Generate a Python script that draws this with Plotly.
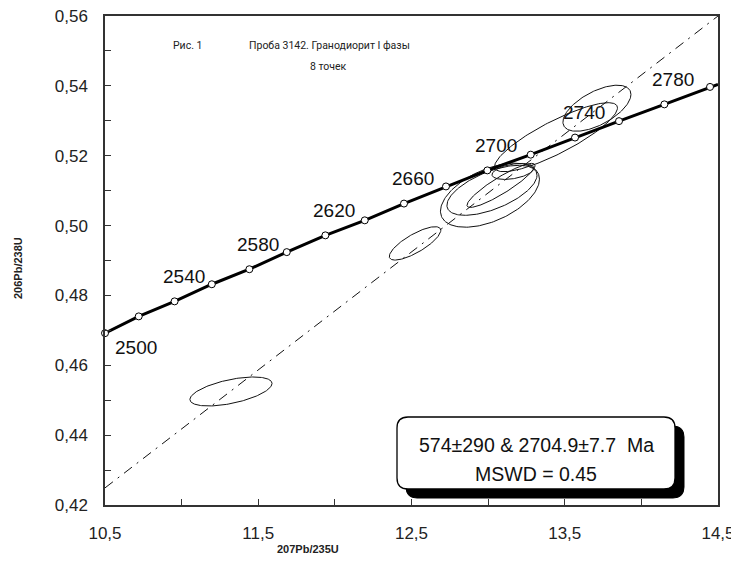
import numpy as np
import plotly.graph_objects as go

# ---------------- data ----------------
# concordia: ages (Ma) and their ratio coordinates
conc_age = [2500, 2520, 2540, 2560, 2580, 2600, 2620, 2640,
            2660, 2680, 2700, 2720, 2740, 2760, 2780, 2800]
conc_x = [10.500, 10.720, 10.954, 11.197, 11.442, 11.686, 11.938, 12.195,
          12.451, 12.725, 12.995, 13.278, 13.567, 13.854, 14.150, 14.448]
conc_y = [0.4692, 0.4740, 0.4783, 0.4832, 0.4875, 0.4924, 0.4972, 0.5015,
          0.5063, 0.5112, 0.5158, 0.5203, 0.5252, 0.5299, 0.5347, 0.5397]
# where the concordia leaves the frame on the right
conc_edge_x = [14.5]
conc_edge_y = [0.5404]

label_ages = [2500, 2540, 2580, 2620, 2660, 2700, 2740, 2780]

# discordia (end points at the frame)
disc_x = [10.5, 14.5]
disc_y = [0.4249, 0.5600]

# error ellipses: centre, half-widths in x and y, correlation
ell_cx = [11.322, 12.523, 13.012, 13.025, 13.084, 13.162, 13.443, 13.710]
ell_cy = [0.4525, 0.4949, 0.5087, 0.5101, 0.5115, 0.5155, 0.5253, 0.5336]
ell_sx = [0.268, 0.168, 0.323, 0.294, 0.222, 0.137, 0.401, 0.222]
ell_sy = [0.00415, 0.00478, 0.00917, 0.00716, 0.00630, 0.00229, 0.00988, 0.00659]
ell_rho = [0.55, 0.78, 0.50, 0.60, 0.90, 0.40, 0.85, 0.60]

x_range = [10.5, 14.5]
y_range = [0.42, 0.56]

title_fig = "Рис. 1"
title_sample = "Проба 3142. Гранодиорит I фазы"
title_points = "8 точек"
result_line1 = "574±290 & 2704.9±7.7\u00a0\u00a0Ma"
result_line2 = "MSWD = 0.45"
x_title = "207Pb/235U"
y_title = "206Pb/238U"

# ---------------- figure ----------------
fig = go.Figure()

t = np.linspace(0, 2 * np.pi, 181)
for cx, cy, sx, sy, r in zip(ell_cx, ell_cy, ell_sx, ell_sy, ell_rho):
    ex = cx + sx * np.cos(t)
    ey = cy + sy * (r * np.cos(t) + np.sqrt(1 - r * r) * np.sin(t))
    fig.add_trace(go.Scatter(x=ex, y=ey, mode="lines",
                             line=dict(color="#111", width=1),
                             hoverinfo="skip", showlegend=False))

fig.add_trace(go.Scatter(x=disc_x, y=disc_y, mode="lines",
                         line=dict(color="#111", width=1, dash="10px,6px,2px,6px"),
                         showlegend=False))

fig.add_trace(go.Scatter(x=conc_x + conc_edge_x, y=conc_y + conc_edge_y, mode="lines",
                         line=dict(color="black", width=3),
                         showlegend=False, cliponaxis=True))
fig.add_trace(go.Scatter(x=conc_x, y=conc_y, mode="markers",
                         marker=dict(symbol="circle", size=7, color="white",
                                     line=dict(color="black", width=1)),
                         showlegend=False, cliponaxis=False))

anns = []
for a in label_ages:
    i = conc_age.index(a)
    if a == 2500:
        xs, ys = 31, -14
    else:
        xs, ys = 9, 25
    anns.append(dict(x=conc_x[i], y=conc_y[i], xref="x", yref="y",
                     text=str(a), showarrow=False, xshift=xs, yshift=ys,
                     font=dict(family="Liberation Sans, Arial", size=19, color="#111")))

# the page body has an 8px margin, so the figure is drawn 8px in from the corner
OFF = 8
W, H = 739 - OFF, 569 - OFF
L, R, T, B = 105 - OFF, 21, 8, 64
pw, ph = W - L - R, H - T - B


def px(xp):  # window pixel x -> paper
    return (xp - OFF - L) / pw


def py(yp):  # window pixel y -> paper
    return (H - B - (yp - OFF)) / ph


title_font = dict(family="Roboto, Noto Sans", size=10.5, color="#222")
anns += [
    dict(x=px(171), y=py(45), xref="paper", yref="paper", text=title_fig,
         showarrow=False, xanchor="left", yanchor="middle", font=title_font),
    dict(x=px(247), y=py(45), xref="paper", yref="paper", text=title_sample,
         showarrow=False, xanchor="left", yanchor="middle", font=title_font),
    dict(x=px(328), y=py(67), xref="paper", yref="paper", text=title_points,
         showarrow=False, xanchor="center", yanchor="middle", font=title_font),
    dict(x=px(18), y=py(268), xref="paper", yref="paper", text="<b>%s</b>" % y_title,
         showarrow=False, textangle=-90, xanchor="center", yanchor="middle",
         font=dict(family="Liberation Sans, Arial", size=11, color="#222")),
    dict(x=px(308), y=py(549), xref="paper", yref="paper", text="<b>%s</b>" % x_title,
         showarrow=False, xanchor="center", yanchor="middle",
         font=dict(family="Liberation Sans, Arial", size=11, color="#222")),
    dict(x=px(536), y=py(445), xref="paper", yref="paper", text=result_line1,
         showarrow=False, xanchor="center", yanchor="middle",
         font=dict(family="Liberation Sans, Arial", size=19.5, color="#111")),
    dict(x=px(536), y=py(474), xref="paper", yref="paper", text=result_line2,
         showarrow=False, xanchor="center", yanchor="middle",
         font=dict(family="Liberation Sans, Arial", size=19.5, color="#111")),
]


def rounded(x0, y0, x1, y1, r):
    # window pixel coords -> paper path with rounded corners
    rx, ry = r / pw, r / ph
    a0, a1 = px(x0), px(x1)
    b0, b1 = py(y1), py(y0)  # b0 bottom, b1 top
    return (f"M {a0+rx},{b1} L {a1-rx},{b1} Q {a1},{b1} {a1},{b1-ry} "
            f"L {a1},{b0+ry} Q {a1},{b0} {a1-rx},{b0} L {a0+rx},{b0} "
            f"Q {a0},{b0} {a0},{b0+ry} L {a0},{b1-ry} Q {a0},{b1} {a0+rx},{b1} Z")


shapes = [
    dict(type="path", xref="paper", yref="paper", path=rounded(406, 426, 684, 498, 11),
         fillcolor="black", line=dict(color="black", width=1), layer="above"),
    dict(type="path", xref="paper", yref="paper", path=rounded(397, 417, 675, 489, 11),
         fillcolor="white", line=dict(color="black", width=1.3), layer="above"),
]

axis_common = dict(showgrid=False, zeroline=False, showline=True, mirror=True,
                   automargin=False, ticklabeloverflow="allow",
                   linecolor="#333", linewidth=1.5, ticks="inside", ticklen=6,
                   tickcolor="#333", tickwidth=1.3,
                   tickfont=dict(family="Liberation Sans, Arial", size=17, color="#222"))

fig.update_layout(
    width=W, height=H,
    margin=dict(l=L, r=R, t=T, b=B, autoexpand=False),
    paper_bgcolor="white", plot_bgcolor="white",
    separators=", ",
    showlegend=False,
    annotations=anns,
    shapes=shapes,
    xaxis=dict(range=x_range, tick0=10.5, dtick=1, tickformat=".1f",
               ticklabelstandoff=12,
               minor=dict(dtick=0.5, tick0=10.5, ticks="inside", ticklen=6,
                          tickcolor="#333", tickwidth=1.3),
               **axis_common),
    yaxis=dict(range=y_range, tick0=0.42, dtick=0.02, tickformat=".2f",
               ticklabelstandoff=12,
               minor=dict(dtick=0.01, tick0=0.42, ticks="inside", ticklen=6,
                          tickcolor="#333", tickwidth=1.3),
               **axis_common),
)

fig.write_html("out.html")
